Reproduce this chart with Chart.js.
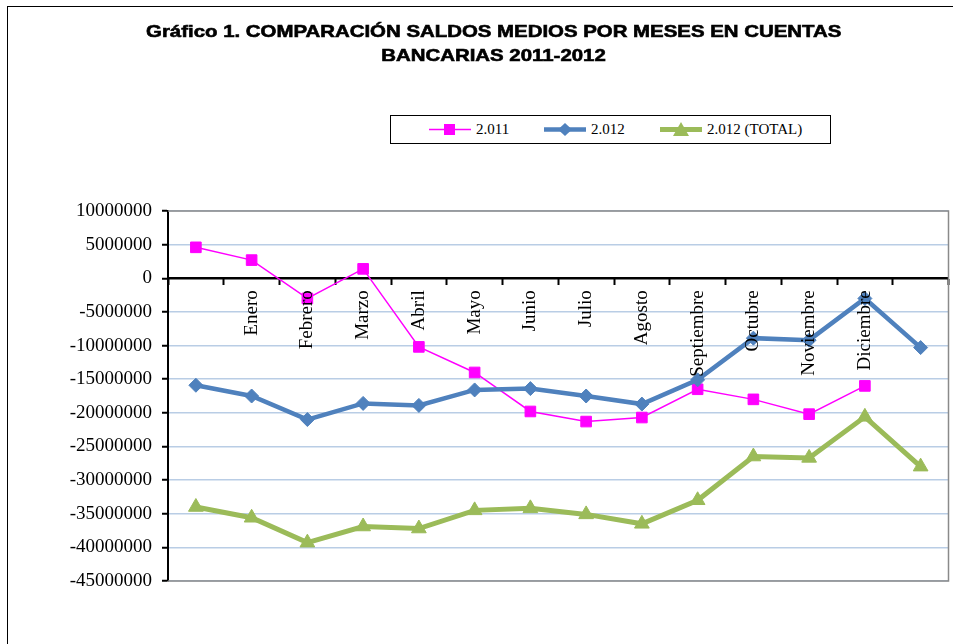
<!DOCTYPE html>
<html lang="es">
<head>
<meta charset="utf-8">
<title>Gráfico 1</title>
<script src="https://cdn.jsdelivr.net/npm/chart.js@4.4.1/dist/chart.umd.min.js"></script>
<style>
  html,body{margin:0;padding:0;background:#fff;}
  #wrap{position:relative;width:953px;height:644px;overflow:hidden;}
  #frame{position:absolute;left:7px;top:6px;right:-10px;bottom:-10px;border-top:1.5px solid #000;border-left:1.5px solid #000;}
  #title{position:absolute;left:0;top:20px;width:988px;text-align:center;font:bold 17px/24px "Liberation Sans",Arial,sans-serif;color:#000;-webkit-text-stroke:0.6px #000;}
  #title span{display:inline-block;transform:scaleX(1.2);}
  #legend{position:absolute;left:390px;top:115px;width:439px;height:27px;border:1.5px solid #000;background:#fff;}
  .lg{position:absolute;top:0;height:27px;display:flex;align-items:center;font:15px "Liberation Serif",serif;color:#000;}
  .lg svg{margin-right:5px;}
  canvas{position:absolute;left:0;top:0;}
</style>
</head>
<body>
<div id="wrap">
  <div id="frame"></div>
  <!-- canvas a bit wider than the window: the x axis keeps ~10px on the right -->
  <canvas id="c" width="958" height="644"></canvas>
  <div id="title"><span>Gráfico 1. COMPARACIÓN SALDOS MEDIOS POR MESES EN CUENTAS</span><br><span>BANCARIAS 2011-2012</span></div>
  <div id="legend"></div>
</div>
<script>
  // categories (first and last slot have no month label)
  const MONTHS=['','Enero','Febrero','Marzo','Abril','Mayo','Junio','Julio','Agosto','Septiembre','Octubre','Noviembre','Diciembre',''];
  const Y_TICK_MIN=-45000000, Y_TICK_MAX=10000000, Y_TICK_STEP=5000000;

  // series
  const SALDO_2011=[4600000,2700000,-3000000,1400000,-10200000,-14000000,-19800000,-21300000,-20700000,-16500000,-18000000,-20200000,-16000000,null];
  const SALDO_2012=[-15900000,-17500000,-21000000,-18600000,-18900000,-16600000,-16400000,-17500000,-18700000,-15100000,-8900000,-9200000,-3000000,-10300000];
  const SALDO_2012_TOTAL=[-34000000,-35600000,-39300000,-36900000,-37200000,-34500000,-34200000,-35100000,-36500000,-33000000,-26500000,-26700000,-20600000,-28000000];

  const SERIES_NAMES=['2.011','2.012','2.012 (TOTAL)'];
  const PINK='#FF00FF',BLUE='#4F81BD',GREEN='#9BBB59';

  const serif='"Liberation Serif","Times New Roman",serif';

  // gray frame round the plot area
  const plotFrame={id:'plotFrame',beforeDatasetsDraw(ch){
    const a=ch.chartArea,x=ch.ctx;
    x.save();x.strokeStyle='#8a8a8a';x.lineWidth=1.5;
    x.beginPath();x.moveTo(a.left,a.top);x.lineTo(a.right,a.top);x.lineTo(a.right,a.bottom);x.lineTo(a.left,a.bottom);x.stroke();
    x.restore();
  }};

  const chart=new Chart(document.getElementById('c'),{
    type:'line',
    data:{labels:MONTHS,datasets:[
      {label:SERIES_NAMES[0],data:SALDO_2011,borderColor:PINK,backgroundColor:PINK,borderWidth:1.5,
       pointStyle:'rect',pointRadius:7.5,pointBorderWidth:1,pointBackgroundColor:PINK,pointBorderColor:PINK,tension:0,order:3},
      {label:SERIES_NAMES[1],data:SALDO_2012,borderColor:BLUE,backgroundColor:BLUE,borderWidth:4.5,
       pointStyle:'rectRot',pointRadius:7,pointBorderWidth:1,pointBackgroundColor:BLUE,pointBorderColor:BLUE,tension:0,order:2},
      {label:SERIES_NAMES[2],data:SALDO_2012_TOTAL,borderColor:GREEN,backgroundColor:GREEN,borderWidth:5,
       pointStyle:'triangle',pointRadius:8.5,pointBorderWidth:1,pointBackgroundColor:GREEN,pointBorderColor:GREEN,tension:0,order:1}
    ]},
    options:{
      responsive:false,animation:false,
      layout:{padding:{left:8,top:211,right:0,bottom:63}},
      plugins:{legend:{display:false},title:{display:false},tooltip:{enabled:false}},
      scales:{
        x:{type:'category',offset:true,position:{y:0},
          grid:{offset:true,drawOnChartArea:false,drawTicks:true,tickLength:6,tickColor:'#000',tickWidth:2},
          border:{display:true,color:'#000',width:2},
          ticks:{z:1,autoSkip:false,minRotation:90,maxRotation:90,padding:6,color:'#000',font:{family:serif,size:19}}},
        y:{min:Y_TICK_MIN,max:Y_TICK_MAX,
          afterFit:s=>{s.width=160;},
          grid:{color:c=>c.tick&&c.tick.value===0?'#000':'#b9cde5',lineWidth:1.5,tickLength:6,tickColor:'#000',tickWidth:2},
          border:{display:true,color:'#000',width:2},
          ticks:{stepSize:Y_TICK_STEP,padding:10,color:'#000',font:{family:serif,size:19},callback:v=>String(v)}}
      }
    },
    plugins:[plotFrame]
  });

  // legend box: line sample with marker, then the series name
  const MARK=[
    '<rect x="15" y="3" width="11" height="11" fill="'+PINK+'"/>',
    '<polygon points="21,2 28,8.5 21,15 14,8.5" fill="'+BLUE+'"/>',
    '<polygon points="21,1 29,15 13,15" fill="'+GREEN+'"/>'
  ];
  const LW=[1.5,4.5,5],COL=[PINK,BLUE,GREEN],LEFTS=[38,153,269];
  document.getElementById('legend').innerHTML=SERIES_NAMES.map((n,i)=>
    `<div class="lg" style="left:${LEFTS[i]}px"><svg width="42" height="17" viewBox="0 0 42 17"><line x1="0" y1="8.5" x2="42" y2="8.5" stroke="${COL[i]}" stroke-width="${LW[i]}"/>${MARK[i]}</svg>${n}</div>`).join('');
</script>
</body>
</html>
